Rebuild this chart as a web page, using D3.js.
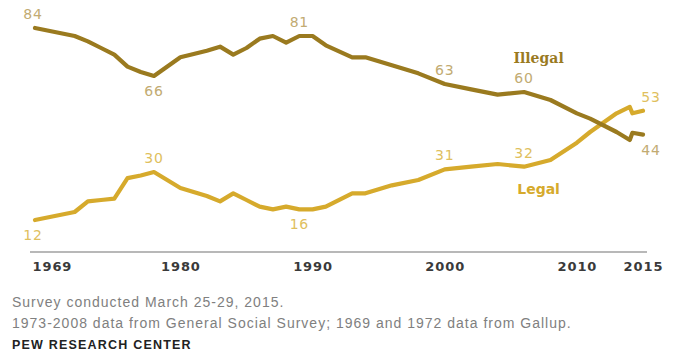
<!DOCTYPE html>
<html>
<head>
<meta charset="utf-8">
<script src="https://cdn.jsdelivr.net/npm/d3@7"></script>
<style>
  html, body { margin: 0; padding: 0; background: #fff; }
  svg { display: block; }
</style>
</head>
<body>
<svg id="chart" width="674" height="352"></svg>
<script>
// ---- data ----
const years   = [1969, 1972, 1973, 1974, 1975, 1976, 1977, 1978, 1980, 1982, 1983, 1984, 1985, 1986, 1987, 1988, 1989, 1990, 1991, 1993, 1994, 1996, 1998, 2000, 2002, 2004, 2006, 2008, 2010, 2011, 2013, 2014, 2014.2, 2015];
const illegal = [84, 81, 79, 76.5, 74, 69.5, 67.5, 66, 73, 75.5, 77, 74, 76.5, 80, 81, 78.5, 81, 81, 77.5, 73, 73, 70, 67, 63, 61, 59, 60, 57, 52, 50, 45, 42, 44.7, 44];
const legal   = [12, 15, 19, 19.5, 20, 27.7, 28.7, 30, 24, 21, 19, 22, 19.5, 17, 16, 17, 16, 16, 17, 22, 22, 25, 27, 31, 32, 33, 32, 34.5, 41, 45, 52, 54.4, 52, 53];
const tickYears = [1969, 1980, 1990, 2000, 2010, 2015];
const illegalLabels = [[1969, 84, "above"], [1978, 66, "below"], [1989, 81, "above"], [2000, 63, "above"], [2006, 60, "above"], [2015, 44, "below"]];
const legalLabels   = [[1969, 12, "below"], [1978, 30, "above"], [1989, 16, "below"], [2000, 31, "above"], [2006, 32, "above"], [2015, 53, "above"]];
const seriesNames = ["Illegal", "Legal"];
const notes = ["Survey conducted March 25-29, 2015.", "1973-2008  data from General Social Survey; 1969 and 1972 data from Gallup."];
const source = "PEW RESEARCH CENTER";

// ---- styles ----
const cIllegal = "#9a7a1f", cLegal = "#d6aa2c";
const cIllegalLbl = "#c2ab72", cLegalLbl = "#e0bf5e";

const svg = d3.select("#chart");
const x = d3.scaleLinear().domain([1969, 2015]).range([35, 643]);
const y = d3.scaleLinear().domain([0, 84]).range([252, 28]);

// axis baseline
svg.append("line")
  .attr("x1", 30).attr("x2", 647)
  .attr("y1", y(0)).attr("y2", y(0))
  .attr("stroke", "#b8b8b8").attr("stroke-width", 2);

// tick labels
const axis = d3.axisBottom(x).tickValues(tickYears).tickFormat(d3.format("d")).tickSize(0).tickPadding(10);
const gx = svg.append("g").attr("transform", `translate(0,${y(0)})`).call(axis);
gx.select(".domain").remove();
gx.selectAll("text")
  .attr("font-family", "'DejaVu Sans', sans-serif")
  .attr("font-size", 13).attr("font-weight", "bold")
  .attr("letter-spacing", 0.9)
  .attr("fill", "#3a3a3a")
  .attr("text-anchor", d => d === 1969 ? "start" : "middle")
  .attr("dx", d => d === 1969 ? -3 : 0);

const line = d3.line().x((d, i) => x(years[i])).y(d => y(d)).curve(d3.curveLinear);

svg.append("path").datum(legal)
  .attr("d", line).attr("fill", "none")
  .attr("stroke", cLegal).attr("stroke-width", 4.2)
  .attr("stroke-linejoin", "round").attr("stroke-linecap", "round");

svg.append("path").datum(illegal)
  .attr("d", line).attr("fill", "none")
  .attr("stroke", cIllegal).attr("stroke-width", 4.2)
  .attr("stroke-linejoin", "round").attr("stroke-linecap", "round");

function valueLabels(arr, color) {
  svg.append("g").selectAll("text").data(arr).join("text")
    .attr("x", d => d[0] === 2015 ? x(d[0]) + 8 : x(d[0]) - (d[0] === 1969 ? 2 : 0))
    .attr("y", d => d[2] === "above" ? y(d[1]) - 9 : y(d[1]) + 20)
    .attr("text-anchor", "middle")
    .attr("font-family", "'DejaVu Sans', sans-serif")
    .attr("font-size", 14)
    .attr("letter-spacing", 0.8)
    .attr("fill", color)
    .text(d => d[1]);
}
valueLabels(illegalLabels, cIllegalLbl);
valueLabels(legalLabels, cLegalLbl);

// series names
svg.append("text")
  .attr("x", x(2007.1)).attr("y", y(70.8))
  .attr("text-anchor", "middle")
  .attr("font-family", "'DejaVu Serif', serif")
  .attr("font-size", 14).attr("font-weight", "bold")
  .attr("fill", cIllegal).text(seriesNames[0]);
svg.append("text")
  .attr("x", x(2007.1)).attr("y", y(21.7))
  .attr("text-anchor", "middle")
  .attr("font-family", "'DejaVu Sans', sans-serif")
  .attr("font-size", 14).attr("font-weight", "bold")
  .attr("fill", cLegal).text(seriesNames[1]);

// notes
svg.append("g").selectAll("text").data(notes).join("text")
  .attr("x", 12).attr("y", (d, i) => 307 + i * 21)
  .attr("font-family", "'Liberation Sans', Arial, sans-serif")
  .attr("font-size", 14).attr("letter-spacing", 1.0)
  .attr("fill", "#808080")
  .text(d => d);

svg.append("text")
  .attr("x", 12).attr("y", 349)
  .attr("font-family", "'Liberation Sans', Arial, sans-serif")
  .attr("font-size", 12.5).attr("font-weight", "bold")
  .attr("letter-spacing", 1.2)
  .attr("fill", "#222")
  .text(source);
</script>
</body>
</html>
